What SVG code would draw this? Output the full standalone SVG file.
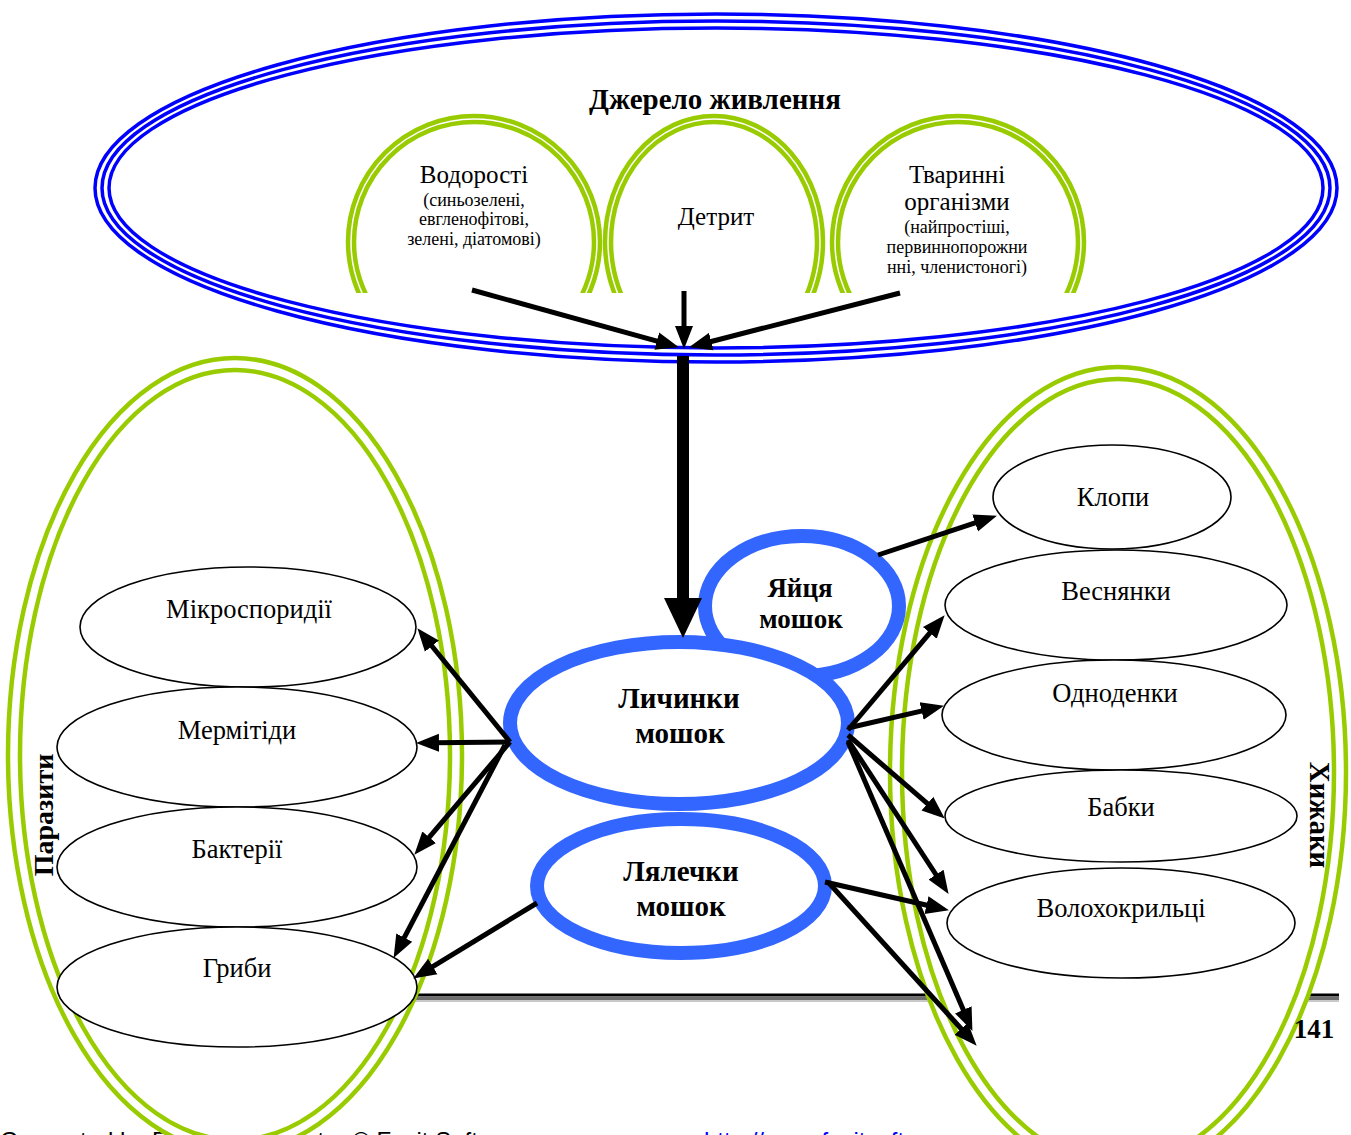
<svg xmlns="http://www.w3.org/2000/svg" width="1351" height="1135" viewBox="0 0 1351 1135">
<style>
.serif{font-family:"Liberation Serif","Times New Roman",serif;fill:#000}
.lbl{font-size:26.5px;text-anchor:middle}
.tl{font-size:25px;text-anchor:middle}
.sm{font-size:18px;text-anchor:middle}
.bold{font-weight:bold;text-anchor:middle}
.blue{fill:none;stroke:#0000ff;stroke-width:3.5}
.green{fill:#fff;stroke:#99cc00;stroke-width:4.5}
.greeni{fill:none;stroke:#99cc00;stroke-width:4.5}
.node{fill:#fff;stroke:#000;stroke-width:1.6}
.bnode{fill:#fff;stroke:#3366ff;stroke-width:14}
.con{stroke:#000;stroke-width:5;fill:none;marker-end:url(#ah)}
</style>
<defs>
<marker id="ah" markerWidth="24" markerHeight="20" refX="4" refY="10" orient="auto" markerUnits="userSpaceOnUse"><path d="M0,1 L23,10 L0,19 z" fill="#000"/></marker>
<clipPath id="topclip"><rect x="0" y="0" width="1351" height="293"/></clipPath>
</defs>
<rect width="1351" height="1135" fill="#fff"/>
<g id="footer">
<rect x="415" y="993.5" width="924" height="3" fill="#000"/>
<rect x="415" y="996.5" width="924" height="3.5" fill="#6e6e6e"/>
<rect x="415" y="1000" width="924" height="2" fill="#c8c8c8"/>
<text x="0" y="1149" font-family="Liberation Sans, Arial, sans-serif" font-size="24" fill="#000">Generated by Foxit PDF Creator © Foxit Software</text>
<text x="704" y="1149" font-family="Liberation Sans, Arial, sans-serif" font-size="24" fill="#0000ff">http://www.foxitsoftware.com</text>
</g>
<g id="source">
<ellipse class="blue" cx="716" cy="188" rx="621" ry="174"/>
<ellipse class="blue" cx="716" cy="188" rx="614" ry="167"/>
<ellipse class="blue" cx="716" cy="188" rx="607" ry="160"/>
<text class="serif bold" x="715" y="109" font-size="29">Джерело живлення</text>
</g>
<g id="algae" clip-path="url(#topclip)">
<ellipse class="green" cx="474" cy="242" rx="126" ry="126"/>
<ellipse class="greeni" cx="474" cy="242" rx="120" ry="120"/>
<text class="serif tl" x="474" y="183">Водорості</text>
<text class="serif sm" x="474" y="206">(синьозелені,</text>
<text class="serif sm" x="474" y="225">евгленофітові,</text>
<text class="serif sm" x="474" y="245">зелені, діатомові)</text>
</g>
<g id="detritus" clip-path="url(#topclip)">
<ellipse class="green" cx="714" cy="242" rx="109" ry="126"/>
<ellipse class="greeni" cx="714" cy="242" rx="103" ry="120"/>
<text class="serif tl" x="716" y="225">Детрит</text>
</g>
<g id="animals" clip-path="url(#topclip)">
<ellipse class="green" cx="958" cy="242" rx="126" ry="126"/>
<ellipse class="greeni" cx="958" cy="242" rx="120" ry="120"/>
<text class="serif tl" x="957" y="183">Тваринні</text>
<text class="serif tl" x="957" y="210">організми</text>
<text class="serif sm" x="957" y="233">(найпростіші,</text>
<text class="serif sm" x="957" y="253">первиннопорожни</text>
<text class="serif sm" x="957" y="273">нні, членистоногі)</text>
</g>
<g id="parasites">
<ellipse class="green" cx="235" cy="755" rx="227" ry="397"/>
<ellipse class="greeni" cx="235" cy="755" rx="215" ry="385"/>
<text class="serif bold" font-size="28" transform="translate(53,815) rotate(-90)" x="0" y="0">Паразити</text>
</g>
<g id="predators">
<ellipse class="green" cx="1118" cy="772" rx="228" ry="405"/>
<ellipse class="greeni" cx="1118" cy="772" rx="216" ry="393"/>
<text class="serif bold" font-size="29" transform="translate(1310,815) rotate(90)" x="0" y="0">Хижаки</text>
</g>
<g id="microsporidia"><ellipse class="node" cx="248" cy="627" rx="168" ry="60"/><text class="serif lbl" x="249" y="618">Мікроспоридії</text></g>
<g id="mermithids"><ellipse class="node" cx="237" cy="747" rx="180" ry="60"/><text class="serif lbl" x="237" y="739">Мермітіди</text></g>
<g id="bacteria"><ellipse class="node" cx="237" cy="867" rx="180" ry="60"/><text class="serif lbl" x="237" y="858">Бактерії</text></g>
<g id="fungi"><ellipse class="node" cx="237" cy="987" rx="180" ry="60"/><text class="serif lbl" x="237" y="977">Гриби</text></g>
<g id="bugs"><ellipse class="node" cx="1112" cy="497" rx="119" ry="52"/><text class="serif lbl" x="1113" y="506">Клопи</text></g>
<g id="stoneflies"><ellipse class="node" cx="1116" cy="605" rx="171" ry="55"/><text class="serif lbl" x="1116" y="600">Веснянки</text></g>
<g id="mayflies"><ellipse class="node" cx="1114" cy="715" rx="172" ry="55"/><text class="serif lbl" x="1115" y="702">Одноденки</text></g>
<g id="dragonflies"><ellipse class="node" cx="1121" cy="816" rx="176" ry="46"/><text class="serif lbl" x="1121" y="816">Бабки</text></g>
<g id="caddisflies"><ellipse class="node" cx="1121" cy="923" rx="174" ry="55"/><text class="serif lbl" x="1121" y="917">Волохокрильці</text></g>
<g id="eggs"><ellipse class="bnode" cx="802" cy="606" rx="97" ry="70"/><text class="serif bold" font-size="27" x="800" y="597">Яйця</text><text class="serif bold" font-size="27" x="801" y="628">мошок</text></g>
<g id="pupae"><ellipse class="bnode" cx="681" cy="886" rx="144" ry="67"/><text class="serif bold" font-size="29" x="681" y="881">Лялечки</text><text class="serif bold" font-size="29" x="681" y="916">мошок</text></g>
<g id="larvae"><ellipse class="bnode" cx="679" cy="723" rx="169" ry="81"/><text class="serif bold" font-size="29" x="679" y="708">Личинки</text><text class="serif bold" font-size="29" x="680" y="743">мошок</text></g>
<g id="connectors">
<line class="con" x1="472" y1="290" x2="660.6" y2="342.2"/>
<line class="con" x1="684" y1="291" x2="684" y2="330"/>
<line class="con" x1="900" y1="293" x2="707.4" y2="342.5"/>
<rect x="677" y="356" width="12" height="246" fill="#000"/>
<polygon points="664,598 702,598 683,638" fill="#000"/>
<line class="con" x1="510" y1="742" x2="429.4" y2="643"/>
<line class="con" x1="510" y1="742" x2="435" y2="742.8"/>
<line class="con" x1="510" y1="742" x2="426.6" y2="840.3"/>
<line class="con" x1="505" y1="745" x2="402.4" y2="941.1"/>
<line class="con" x1="537" y1="903" x2="429.4" y2="968.6"/>
<line class="con" x1="878" y1="555" x2="978.9" y2="521.7"/>
<line class="con" x1="848" y1="730" x2="932.4" y2="629.8"/>
<line class="con" x1="848" y1="728" x2="925.5" y2="710.1"/>
<line class="con" x1="848" y1="735" x2="930.4" y2="806.2"/>
<line class="con" x1="848" y1="740" x2="938.2" y2="878"/>
<line class="con" x1="848" y1="742" x2="964.9" y2="1013.5"/>
<line class="con" x1="825" y1="882" x2="930.4" y2="906"/>
<line class="con" x1="828" y1="882" x2="963.9" y2="1031.7"/>
</g>
<text class="serif" x="1314" y="1038" font-size="27" font-weight="bold" text-anchor="middle">141</text>
</svg>
